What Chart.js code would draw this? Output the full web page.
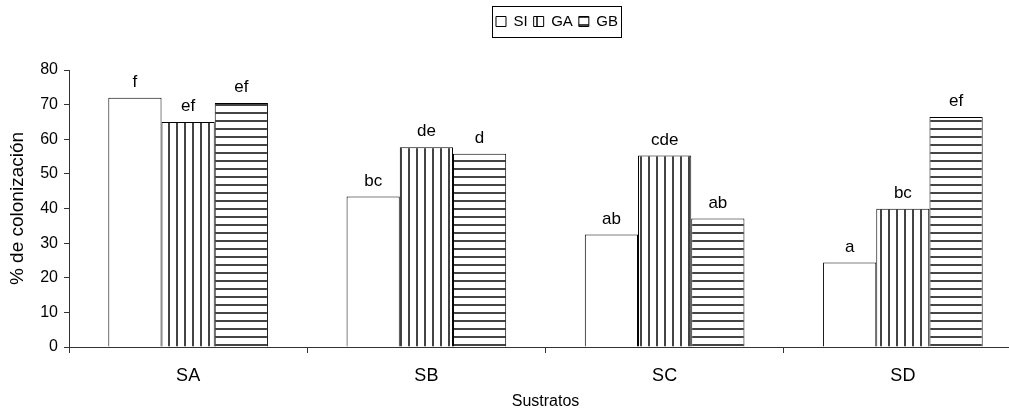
<!DOCTYPE html>
<html>
<head>
<meta charset="utf-8">
<script src="https://cdn.jsdelivr.net/npm/chart.js@4/dist/chart.umd.min.js"></script>
<style>
html,body{margin:0;padding:0;background:#fff;overflow:hidden;}
#wrap{width:1030px;height:419px;}
</style>
</head>
<body>
<div id="wrap"><canvas id="c" width="1030" height="419"></canvas></div>
<script>
const categories = ['SA', 'SB', 'SC', 'SD'];
const seriesNames = ['SI', 'GA', 'GB'];
const valuesSI = [72.0, 43.5, 32.5, 24.4];
const valuesGA = [65.0, 57.7, 55.3, 39.9];
const valuesGB = [70.5, 55.8, 37.1, 66.4];
const lettersSI = ['f', 'bc', 'ab', 'a'];
const lettersGA = ['ef', 'de', 'cde', 'bc'];
const lettersGB = ['ef', 'd', 'ab', 'ef'];
const yTicks = [0, 10, 20, 30, 40, 50, 60, 70, 80];

const FONT = '"Liberation Sans", Arial, sans-serif';

function makePattern(vertical) {
  const c = document.createElement('canvas');
  c.width = 8; c.height = 8;
  const x = c.getContext('2d');
  x.fillStyle = '#ffffff';
  x.fillRect(0, 0, 8, 8);
  x.fillStyle = '#444444';
  if (vertical) x.fillRect(0, 0, 2, 8); else x.fillRect(0, 0, 8, 2);
  return x.createPattern(c, 'repeat');
}
const patV = makePattern(true);
const patH = makePattern(false);

const letters = [lettersSI, lettersGA, lettersGB];

const labelPlugin = {
  id: 'barLetters',
  afterDatasetsDraw(chart) {
    const ctx = chart.ctx;
    ctx.save();
    ctx.font = '17px ' + FONT;
    ctx.fillStyle = '#000';
    ctx.textAlign = 'center';
    ctx.textBaseline = 'bottom';
    chart.data.datasets.forEach((ds, di) => {
      const meta = chart.getDatasetMeta(di);
      meta.data.forEach((el, i) => {
        ctx.fillText(letters[di][i], el.x, el.y - 7);
      });
    });
    ctx.restore();
  }
};

const legendShift = {
  id: 'legendShift',
  afterLayout(chart) {
    const lg = chart.legend;
    lg.left += 46; lg.right += 46;
    lg.top -= 31; lg.bottom -= 31;
  },
  afterDraw(chart) {
    const lg = chart.legend;
    const hb = lg.legendHitBoxes;
    if (!hb || !hb.length) return;
    let l = Infinity, r = -Infinity, t = Infinity, b = -Infinity;
    hb.forEach(h => { l = Math.min(l, h.left); r = Math.max(r, h.left + h.width); t = Math.min(t, h.top); b = Math.max(b, h.top + h.height); });
    const ctx = chart.ctx;
    ctx.save();
    ctx.strokeStyle = '#000';
    ctx.lineWidth = 1;
    ctx.strokeRect(Math.round(l - 4) + 0.5, Math.round(t - 8) + 0.5, Math.round(r - l + 7), Math.round(b - t + 16));
    ctx.restore();
  }
};

new Chart(document.getElementById('c'), {
  type: 'bar',
  data: {
    labels: categories,
    datasets: [
      { label: seriesNames[0], data: valuesSI, backgroundColor: '#ffffff', borderColor: '#000', borderWidth: 1 },
      { label: seriesNames[1], data: valuesGA, backgroundColor: patV, borderColor: '#000', borderWidth: 1 },
      { label: seriesNames[2], data: valuesGB, backgroundColor: patH, borderColor: '#000', borderWidth: 1 }
    ]
  },
  options: {
    responsive: false,
    animation: false,
    events: [],
    layout: { padding: { top: 39, right: 8, left: 0, bottom: 0 } },
    datasets: { bar: { categoryPercentage: 0.67, barPercentage: 1.0 } },
    plugins: {
      legend: {
        display: true,
        position: 'top',
        align: 'center',
        labels: { boxWidth: 10, boxHeight: 10, padding: 6, color: '#000', font: { family: FONT, size: 15 } }
      },
      tooltip: { enabled: false },
      title: { display: false }
    },
    scales: {
      x: {
        grid: { offset: true, drawOnChartArea: false, drawTicks: true, tickLength: 6, tickColor: '#333', tickWidth: 1 },
        border: { display: true, color: '#333', width: 1 },
        ticks: { color: '#000', font: { family: FONT, size: 18 }, padding: 12 },
        title: { display: true, text: 'Sustratos', color: '#000', font: { family: FONT, size: 16 }, padding: { top: 6, bottom: 8 } },
        afterFit(s) { s.height = 72; }
      },
      y: {
        min: 0, max: 80,
        afterBuildTicks(s) { s.ticks = yTicks.map(v => ({ value: v })); },
        grid: { drawOnChartArea: false, drawTicks: true, tickLength: 5, tickColor: '#333', tickWidth: 1 },
        border: { display: true, color: '#333', width: 1 },
        ticks: { color: '#000', font: { family: FONT, size: 16 }, padding: 6 },
        title: { display: true, text: '% de colonización', color: '#000', font: { family: FONT, size: 19 }, padding: { top: 6, bottom: 4 } },
        afterFit(s) { s.width = 69; }
      }
    }
  },
  plugins: [labelPlugin, legendShift]
});
</script>
</body>
</html>
